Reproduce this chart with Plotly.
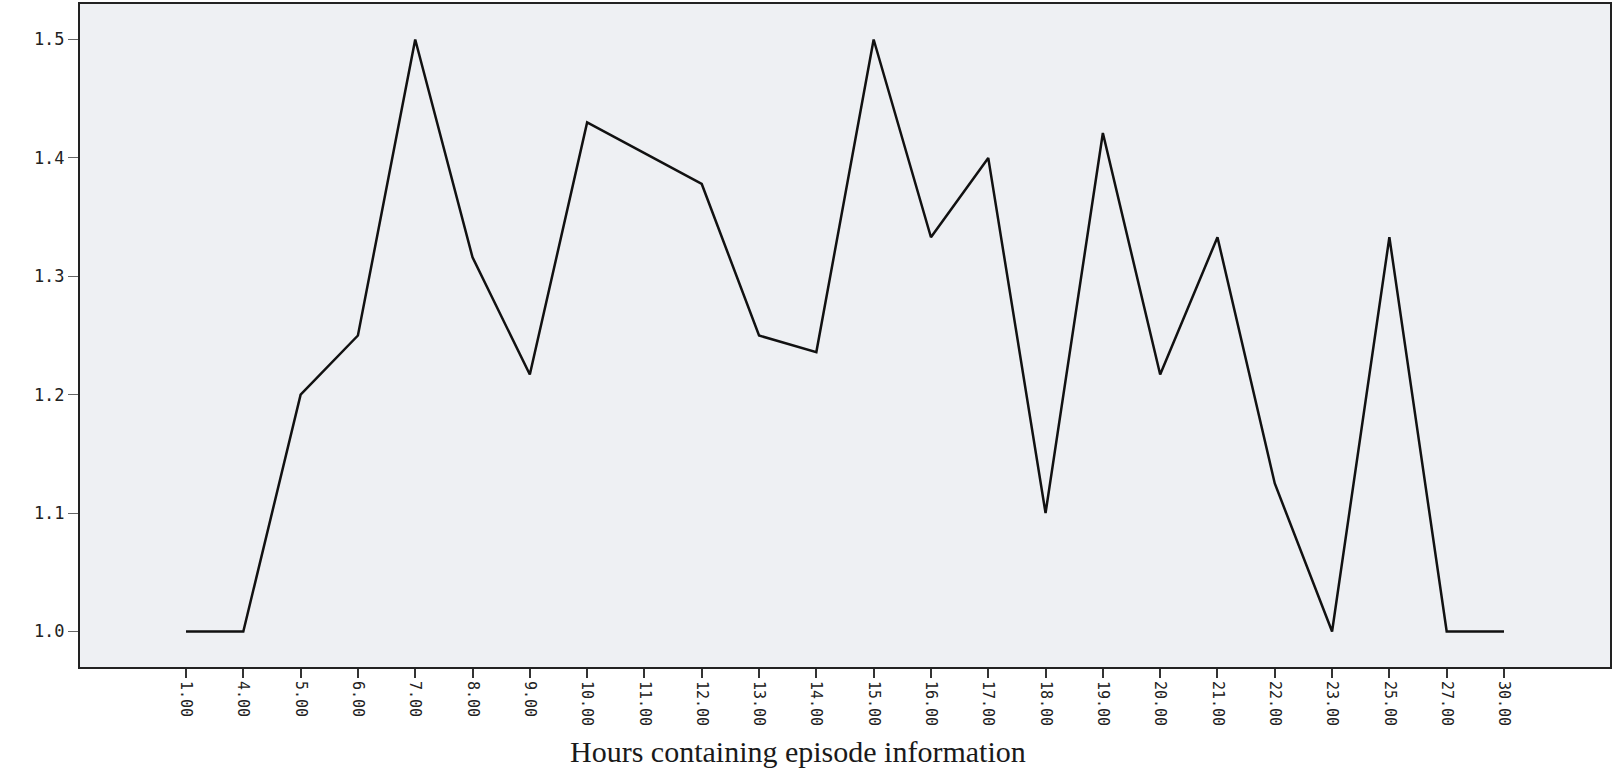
import plotly.graph_objects as go

hours = ["1.00", "4.00", "5.00", "6.00", "7.00", "8.00", "9.00", "10.00", "11.00", "12.00",
         "13.00", "14.00", "15.00", "16.00", "17.00", "18.00", "19.00", "20.00", "21.00",
         "22.00", "23.00", "25.00", "27.00", "30.00"]
mean_values = [1.0, 1.0, 1.2, 1.25, 1.5, 1.316, 1.217, 1.43, 1.404, 1.378,
               1.25, 1.236, 1.5, 1.333, 1.40, 1.10, 1.421, 1.217, 1.333,
               1.125, 1.0, 1.333, 1.0, 1.0]
y_ticks = [1.0, 1.1, 1.2, 1.3, 1.4, 1.5]
y_tick_labels = ["1.0", "1.1", "1.2", "1.3", "1.4", "1.5"]

idx = list(range(len(hours)))

fig = go.Figure()
fig.add_trace(go.Scatter(x=idx, y=mean_values, mode="lines",
                         line=dict(color="#111111", width=2.5), showlegend=False))

fig.update_layout(
    width=1614, height=771,
    margin=dict(l=80, r=2, t=3, b=104),
    paper_bgcolor="white",
    plot_bgcolor="#eef0f3",
    xaxis=dict(
        range=[-1.85, len(hours) - 1 + 1.85],
        tickmode="array", tickvals=idx, ticktext=hours,
        tickangle=90,
        ticks="outside", ticklen=9, tickcolor="#333333", tickwidth=2,
        showgrid=False, zeroline=False,
        showline=True, linecolor="#222222", linewidth=2, mirror=True,
        tickfont=dict(family="DejaVu Sans Mono", size=15, color="#222222"),
    ),
    yaxis=dict(
        range=[0.97, 1.53],
        tickmode="array", tickvals=y_ticks, ticktext=y_tick_labels,
        ticks="outside", ticklen=10, tickcolor="#666666", tickwidth=1,
        showgrid=False, zeroline=False,
        showline=True, linecolor="#222222", linewidth=2, mirror=True,
        tickfont=dict(family="DejaVu Sans Mono", size=17, color="#222222"),
    ),
    annotations=[dict(
        text="Hours containing episode information",
        xref="paper", yref="paper", x=0.469, y=-0.1,
        xanchor="center", yanchor="top", showarrow=False,
        font=dict(family="Liberation Serif", size=30, color="#1a1a1a"),
    )],
)

fig.write_html("out.html", config={"displayModeBar": False},
               post_script="document.body.style.margin='0';")
